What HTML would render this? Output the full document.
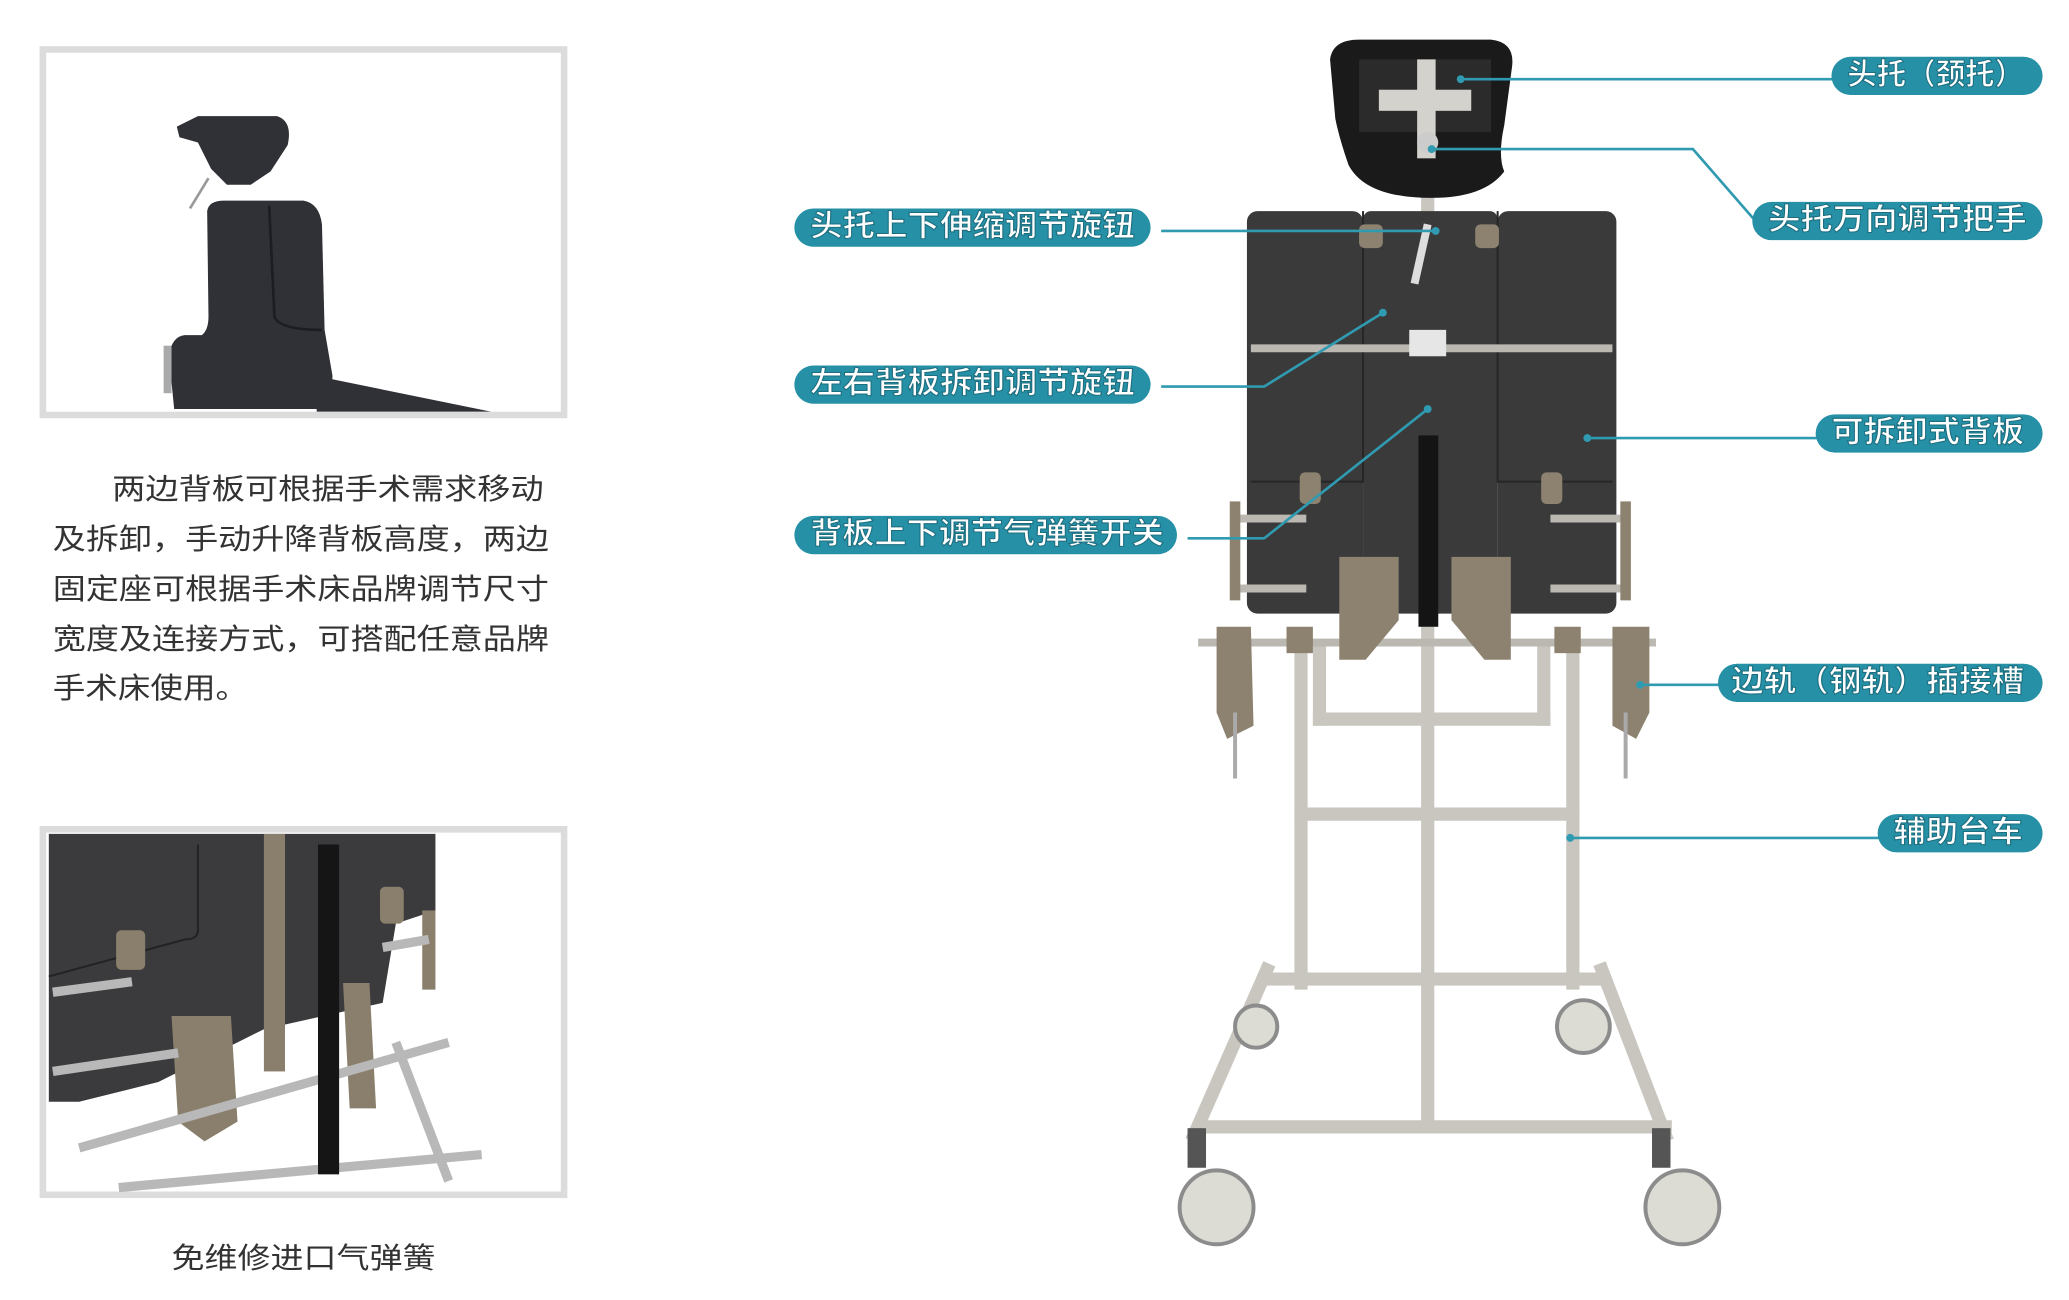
<!DOCTYPE html>
<html><head><meta charset="utf-8"><style>
html,body{margin:0;padding:0;background:#fff;}
svg{display:block;}
text{font-family:"Liberation Sans","Noto Sans CJK SC",sans-serif;}
</style></head><body>
<svg width="2069" height="1300" viewBox="0 0 2069 1300" xmlns="http://www.w3.org/2000/svg">
<g transform="scale(1.3195)">
<!-- Frame 1 -->
<rect x="32.5" y="37.5" width="395" height="277" fill="#fff" stroke="#dcdcdc" stroke-width="5"/>
<g fill="#2f3137">
<path d="M134,96 L150,88 L210,88 Q222,92 218,110 L205,130 L190,140 L172,140 L160,128 L150,108 L136,104 Z"/>
<path d="M157,160 Q158,152 170,152 L230,152 Q242,154 244,170 L246,250 L252,285 L250,310 L132,310 L128,270 Q130,255 140,254 L153,254 Q158,250 158,240 Z"/>
<path d="M240,285 L372,312 L240,312 Z"/>
</g>
<path d="M204,156 L208,240 Q212,250 244,250" fill="none" stroke="#1c1d22" stroke-width="2"/>
<line x1="158" y1="135" x2="144" y2="158" stroke="#999" stroke-width="2"/>
<rect x="124" y="262" width="6" height="36" fill="#aaa"/>
<!-- Paragraph -->
<g font-size="22" fill="#333">
<text x="85" y="378" textLength="327" lengthAdjust="spacingAndGlyphs">两边背板可根据手术需求移动</text>
<text x="40" y="416" textLength="376" lengthAdjust="spacingAndGlyphs">及拆卸，手动升降背板高度，两边</text>
<text x="40" y="454" textLength="376" lengthAdjust="spacingAndGlyphs">固定座可根据手术床品牌调节尺寸</text>
<text x="40" y="492" textLength="376" lengthAdjust="spacingAndGlyphs">宽度及连接方式，可搭配任意品牌</text>
<text x="40" y="529" textLength="148" lengthAdjust="spacingAndGlyphs">手术床使用。</text>
</g>
<!-- Frame 2 -->
<rect x="32.5" y="628.5" width="395" height="277" fill="#fff" stroke="#dcdcdc" stroke-width="5"/>
<path d="M37,632 L330,632 L330,690 L300,700 L290,760 L200,780 L120,820 L60,835 L37,835 Z" fill="#3b3b3d"/>
<path d="M150,640 L150,705 Q150,712 140,712 L37,740" fill="none" stroke="#222" stroke-width="1.5"/>
<g fill="#8a7f6c">
<rect x="200" y="632" width="16" height="180"/>
<rect x="88" y="705" width="22" height="30" rx="4"/>
<rect x="288" y="672" width="18" height="28" rx="4"/>
<path d="M130,770 L175,770 L180,850 L155,865 L135,850 Z"/>
<path d="M260,745 L280,745 L285,840 L265,840 Z"/>
<rect x="320" y="690" width="10" height="60"/>
</g>
<g stroke="#b8b8b8" stroke-width="7" fill="none">
<line x1="40" y1="752" x2="100" y2="744"/>
<line x1="40" y1="812" x2="135" y2="798"/>
<line x1="290" y1="718" x2="325" y2="712"/>
<line x1="60" y1="870" x2="340" y2="790"/>
<line x1="90" y1="900" x2="365" y2="875"/>
<line x1="300" y1="790" x2="340" y2="895"/>
</g>
<rect x="241" y="640" width="16" height="250" fill="#151515"/>
<text x="130" y="961" font-size="22" fill="#333" textLength="200" lengthAdjust="spacingAndGlyphs">免维修进口气弹簧</text>

<!-- Product: cart -->
<g stroke="#c9c6c0" stroke-width="10" fill="none" stroke-linecap="square">
<line x1="986" y1="490" x2="986" y2="745"/>
<line x1="1192" y1="490" x2="1192" y2="745"/>
<line x1="1082" y1="150" x2="1082" y2="850"/>
<line x1="986" y1="617" x2="1192" y2="617"/>
<line x1="960" y1="742" x2="1214" y2="742"/>
<line x1="918" y1="854" x2="1262" y2="854"/>
<line x1="960" y1="735" x2="905" y2="860"/>
<line x1="1214" y1="735" x2="1262" y2="860"/>
<line x1="1000" y1="545" x2="1170" y2="545"/>
<line x1="1000" y1="495" x2="1000" y2="545"/>
<line x1="1170" y1="495" x2="1170" y2="545"/>
</g>
<rect x="900" y="855" width="14" height="30" fill="#555"/>
<rect x="1252" y="855" width="14" height="30" fill="#555"/>
<g fill="#dcdcd4" stroke="#8c8c8c" stroke-width="3">
<circle cx="922" cy="915" r="28"/><circle cx="1275" cy="915" r="28"/>
<circle cx="1200" cy="778" r="20"/><circle cx="952" cy="778" r="16"/>
</g>
<!-- Backboard -->
<g fill="#3a3a3b">
<rect x="945" y="160" width="88" height="305" rx="8"/>
<rect x="1033" y="160" width="102" height="305" rx="6"/>
<rect x="1135" y="160" width="90" height="305" rx="8"/>
</g>
<g stroke="#262626" stroke-width="1.5" fill="none">
<path d="M1033,160 V365 H948"/><path d="M1135,160 V365 H1222"/>
</g>
<g stroke="#bbb8b2" stroke-width="6">
<line x1="948" y1="264" x2="1222" y2="264"/>
<line x1="935" y1="393" x2="990" y2="393"/><line x1="1175" y1="393" x2="1232" y2="393"/>
<line x1="935" y1="446" x2="990" y2="446"/><line x1="1175" y1="446" x2="1232" y2="446"/>
<line x1="908" y1="487" x2="1255" y2="487"/>
</g>
<g fill="#8d8270">
<rect x="932" y="380" width="8" height="75"/><rect x="1228" y="380" width="8" height="75"/>
<rect x="985" y="358" width="16" height="24" rx="4"/><rect x="1168" y="358" width="16" height="24" rx="4"/>
<path d="M1015,422 L1060,422 L1060,470 L1035,500 L1015,500 Z"/>
<path d="M1100,422 L1145,422 L1145,500 L1125,500 L1100,470 Z"/>
<rect x="1030" y="170" width="18" height="18" rx="4"/><rect x="1118" y="170" width="18" height="18" rx="4"/>
<rect x="975" y="475" width="20" height="20"/><rect x="1178" y="475" width="20" height="20"/>
<path d="M922,475 L948,475 L950,550 L930,560 L922,540 Z"/>
<path d="M1222,475 L1250,475 L1250,540 L1240,560 L1222,550 Z"/>
</g>
<rect x="1075" y="330" width="15" height="145" fill="#141414"/>
<rect x="1068" y="250" width="28" height="20" fill="#e6e6e6"/>
<line x1="1082" y1="170" x2="1072" y2="215" stroke="#ddd" stroke-width="6"/>
<line x1="936" y1="540" x2="936" y2="590" stroke="#aaa" stroke-width="3"/>
<line x1="1232" y1="540" x2="1232" y2="590" stroke="#aaa" stroke-width="3"/>
<!-- Headrest -->
<path d="M1008,45 Q1010,30 1030,30 L1130,30 Q1148,32 1146,50 L1140,95 Q1135,118 1140,130 Q1125,150 1085,150 Q1035,150 1022,125 Q1015,105 1012,90 Z" fill="#1a1a1a"/>
<rect x="1030" y="45" width="100" height="55" fill="#2b2b2b"/>
<rect x="1045" y="68" width="70" height="16" fill="#d4d2cc"/>
<rect x="1074" y="45" width="14" height="75" fill="#d4d2cc"/>
<circle cx="1082" cy="108" r="8" fill="#ccc"/>

<!-- Connectors -->
<g stroke="#2f9ab0" stroke-width="2" fill="none">
<polyline points="1107,60 1390,60"/>
<polyline points="1085,113 1283,113 1330,167"/>
<polyline points="880,175 1088,175"/>
<polyline points="880,293 958,293 1048,237"/>
<polyline points="900,408 958,408 1082,310"/>
<polyline points="1203,332 1378,332"/>
<polyline points="1243,519 1304,519"/>
<polyline points="1190,635 1425,635"/>
</g>
<g fill="#2f9ab0">
<circle cx="1107" cy="60" r="3"/><circle cx="1085" cy="113" r="3"/><circle cx="1088" cy="175" r="3"/>
<circle cx="1048" cy="237" r="3"/><circle cx="1082" cy="310" r="3"/><circle cx="1203" cy="332" r="3"/>
<circle cx="1243" cy="519" r="3"/><circle cx="1190" cy="635" r="3"/>
</g>
<!-- Pills -->
<g fill="#2690a6">
<rect x="1388" y="43" width="160" height="29" rx="14.5"/>
<rect x="1328" y="153" width="220" height="29" rx="14.5"/>
<rect x="602" y="158" width="270" height="29" rx="14.5"/>
<rect x="602" y="277" width="270" height="29" rx="14.5"/>
<rect x="602" y="391" width="290" height="29" rx="14.5"/>
<rect x="1376" y="314" width="172" height="29" rx="14.5"/>
<rect x="1302" y="503" width="246" height="29" rx="14.5"/>
<rect x="1423" y="617" width="125" height="29" rx="14.5"/>
</g>
<g font-size="23" fill="#fff" stroke="#1d6f80" stroke-width="0.8" font-weight="bold">
<text x="1400" y="64" textLength="134" lengthAdjust="spacingAndGlyphs">头托（颈托）</text>
<text x="1340" y="174" textLength="196" lengthAdjust="spacingAndGlyphs">头托万向调节把手</text>
<text x="614" y="179" textLength="246" lengthAdjust="spacingAndGlyphs">头托上下伸缩调节旋钮</text>
<text x="614" y="298" textLength="246" lengthAdjust="spacingAndGlyphs">左右背板拆卸调节旋钮</text>
<text x="614" y="412" textLength="268" lengthAdjust="spacingAndGlyphs">背板上下调节气弹簧开关</text>
<text x="1388" y="335" textLength="146" lengthAdjust="spacingAndGlyphs">可拆卸式背板</text>
<text x="1312" y="524" textLength="222" lengthAdjust="spacingAndGlyphs">边轨（钢轨）插接槽</text>
<text x="1435" y="638" textLength="98" lengthAdjust="spacingAndGlyphs">辅助台车</text>
</g>
</g>
</svg>
</body></html>
